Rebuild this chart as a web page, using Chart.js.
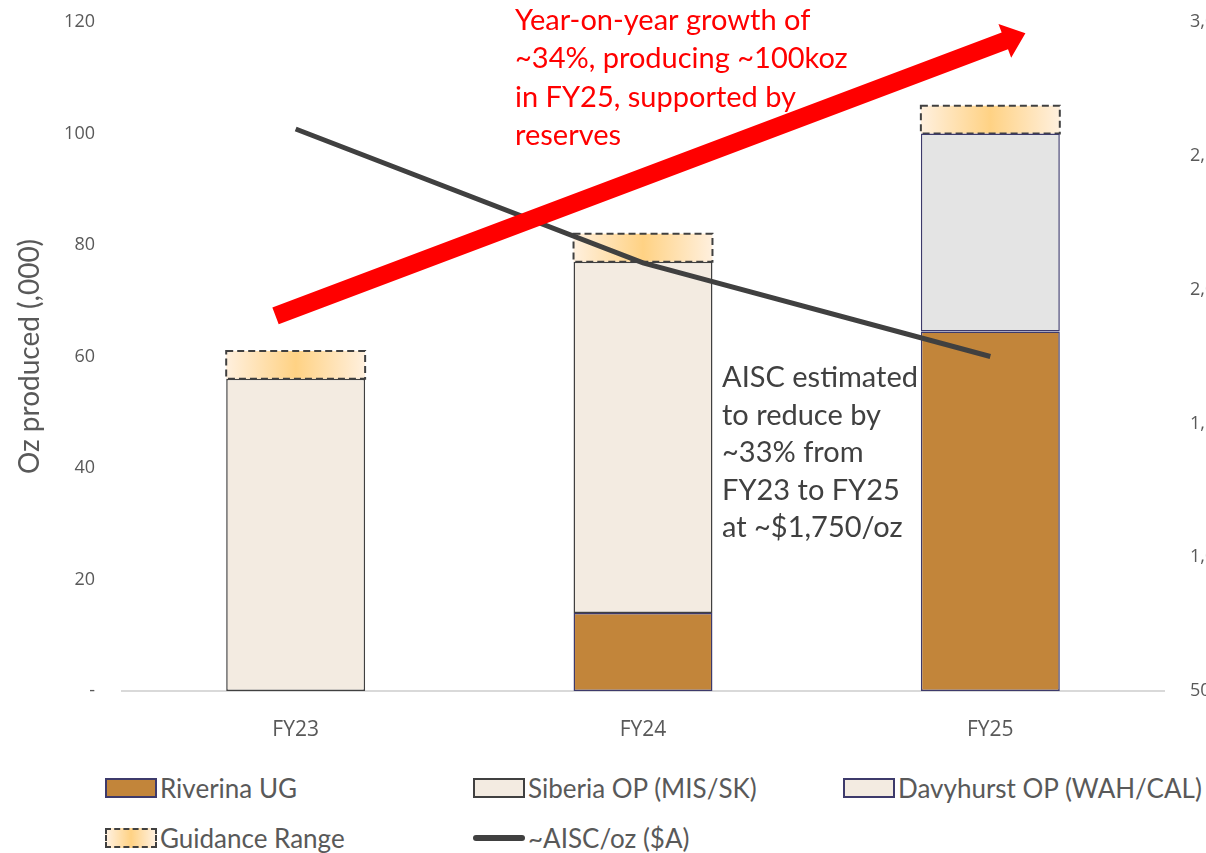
<!DOCTYPE html>
<html>
<head>
<meta charset="utf-8">
<script src="https://cdn.jsdelivr.net/npm/chart.js@4.4.1/dist/chart.umd.min.js"></script>
<style>
    html, body { margin: 0; padding: 0; background: #fff; width: 1206px; height: 853px; overflow: hidden; }
    #wrap { position: absolute; left: 0; top: 0; width: 1234px; height: 760px; }
    #legend {
        position: absolute; left: 105px; top: 763px;
        display: grid; grid-template-columns: 368px 370px 400px; grid-auto-rows: 50px;
        font-family: Lato, sans-serif; font-size: 26px; color: #595959;
    }
    .item { display: flex; align-items: center; white-space: nowrap; }
    .sw { width: 52px; height: 20px; box-sizing: border-box; margin-right: 3px; }
    .ln { width: 52px; height: 6px; border-radius: 3px; margin-right: 3px; }
</style>
</head>
<body>
<div id="wrap"><canvas id="chart"></canvas></div>
<div id="legend"></div>
<script>
var categories = ["FY23", "FY24", "FY25"];
var riverinaUG = [null, 14, 64.5];
var siberiaOP = [56, 63, null];
var davyhurstOP = [null, null, 35.5];
var guidanceRange = [5, 5, 5];
var aiscPerOz = [2600, 2100, 1750];

var redNote = ["Year-on-year growth of", "~34%, producing ~100koz", "in FY25, supported by", "reserves"];
var greyNote = ["AISC estimated", "to reduce by", "~33% from", "FY23 to FY25", "at ~$1,750/oz"];
// arrow from/to in (category index, left axis value)
var arrowFrom = [-0.058, 67.3];
var arrowTo = [2.101, 118];

var navy = "#3D3A6B";
var dark = "#404040";

function guidanceFill(ctx) {
    var chart = ctx.chart;
    if (!chart.chartArea || ctx.dataIndex === undefined) return "#FFD98F";
    var xs = chart.scales.x;
    var cx = xs.getPixelForValue(ctx.dataIndex);
    var half = xs.width / categories.length * 0.4 / 2;
    var g = chart.ctx.createLinearGradient(cx - half, 0, cx + half, 0);
    g.addColorStop(0, "#FFF0DE");
    g.addColorStop(0.5, "#FFD284");
    g.addColorStop(1, "#FFF0DE");
    return g;
}

var guidanceOutline = {
    id: "guidanceOutline",
    afterDatasetDraw: function(chart, args) {
        if (args.index !== 3) return;
        var c = chart.ctx;
        c.save();
        c.setLineDash([7, 4]);
        c.lineWidth = 2;
        c.strokeStyle = dark;
        args.meta.data.forEach(function(bar) {
            var p = bar.getProps(["x", "y", "base", "width"], true);
            c.strokeRect(p.x - p.width / 2, p.y, p.width, p.base - p.y);
        });
        c.restore();
    }
};

var notes = {
    id: "notes",
    afterDatasetsDraw: function(chart) {
        var c = chart.ctx;
        var xs = chart.scales.x, ys = chart.scales.y;
        // red growth arrow
        var x0 = xs.getPixelForValue(arrowFrom[0]), y0 = ys.getPixelForValue(arrowFrom[1]);
        var x1 = xs.getPixelForValue(arrowTo[0]), y1 = ys.getPixelForValue(arrowTo[1]);
        var ang = Math.atan2(y1 - y0, x1 - x0);
        var len = Math.hypot(x1 - x0, y1 - y0);
        c.save();
        c.translate(x0, y0);
        c.rotate(ang);
        c.fillStyle = "#FF0000";
        c.beginPath();
        c.moveTo(0, -9);
        c.lineTo(len - 22, -9);
        c.lineTo(len - 22, -18);
        c.lineTo(len, 0);
        c.lineTo(len - 22, 18);
        c.lineTo(len - 22, 9);
        c.lineTo(0, 9);
        c.closePath();
        c.fill();
        c.restore();

        c.save();
        c.font = "29px Lato";
        c.textBaseline = "alphabetic";
        c.fillStyle = "#FF0000";
        redNote.forEach(function(t, i) { c.fillText(t, 515, 30 + i * 38.4); });
        c.fillStyle = dark;
        greyNote.forEach(function(t, i) { c.fillText(t, 722, 387 + i * 37.5); });
        c.restore();
    }
};

function noVerticalPad(s) {
    s.paddingTop = 0;
    s.paddingBottom = 0;
}

var chart = new Chart(document.getElementById("chart").getContext("2d"), {
    type: "bar",
    data: {
        labels: categories,
        datasets: [
            {
                label: "Riverina UG",
                data: riverinaUG,
                backgroundColor: "#C2853A",
                borderColor: navy,
                borderWidth: 1.5,
                borderSkipped: false,
                order: 1
            },
            {
                label: "Siberia OP (MIS/SK)",
                data: siberiaOP,
                backgroundColor: "#F3EBE1",
                borderColor: dark,
                borderWidth: 1.5,
                borderSkipped: false,
                order: 1
            },
            {
                label: "Davyhurst OP (WAH/CAL)",
                data: davyhurstOP,
                backgroundColor: "#E4E4E4",
                borderColor: navy,
                borderWidth: 1.5,
                borderSkipped: false,
                order: 1
            },
            {
                label: "Guidance Range",
                data: guidanceRange,
                backgroundColor: guidanceFill,
                borderWidth: 0,
                order: 1
            },
            {
                type: "line",
                label: "~AISC/oz ($A)",
                data: aiscPerOz,
                yAxisID: "y1",
                borderColor: dark,
                borderWidth: 5,
                pointRadius: 0,
                tension: 0,
                order: 0
            }
        ]
    },
    options: {
        responsive: true,
        maintainAspectRatio: false,
        animation: false,
        categoryPercentage: 0.8,
        barPercentage: 0.5,
        layout: { padding: { top: 22, left: 0, right: 0, bottom: 0 } },
        plugins: {
            legend: { display: false },
            tooltip: { enabled: false }
        },
        scales: {
            x: {
                stacked: true,
                grid: { display: true, color: "transparent", drawTicks: false },
                border: { display: true, color: "#D9D9D9", width: 2 },
                ticks: { color: "#595959", font: { family: "Open Sans", size: 21 }, padding: 26 },
                afterFit: function(s) { s.height = 69; }
            },
            y: {
                stacked: true,
                min: 0,
                max: 120,
                grid: { display: false, drawTicks: false },
                border: { display: false },
                ticks: {
                    stepSize: 20,
                    color: "#595959",
                    font: { family: "Open Sans", size: 18 },
                    padding: 27,
                    callback: function(v) { return v === 0 ? "-" : v; }
                },
                title: {
                    display: true,
                    text: "Oz produced (,000)",
                    color: "#595959",
                    font: { family: "Lato", size: 28 },
                    padding: { top: 13, bottom: 0 }
                },
                afterFit: function(s) { s.width = 122; noVerticalPad(s); }
            },
            y1: {
                position: "right",
                min: 500,
                max: 3000,
                grid: { display: false, drawTicks: false },
                border: { display: false },
                ticks: {
                    stepSize: 500,
                    color: "#595959",
                    font: { family: "Open Sans", size: 18 },
                    padding: 26,
                    callback: function(v) { return v.toLocaleString("en-US"); }
                },
                afterFit: function(s) { s.width = 70; noVerticalPad(s); }
            }
        }
    },
    plugins: [guidanceOutline, notes]
});

// legend in the same grid as the original (three columns)
var legendItems = [
    { text: "Riverina UG", fill: "#C2853A", border: navy },
    { text: "Siberia OP (MIS/SK)", fill: "#F3EBE1", border: dark },
    { text: "Davyhurst OP (WAH/CAL)", fill: "#F3EBE1", border: navy },
    { text: "Guidance Range", fill: "linear-gradient(90deg,#FFF0DE,#FFD284,#FFF0DE)", border: dark, dashed: true },
    { text: "~AISC/oz ($A)", line: dark }
];
var legend = document.getElementById("legend");
legendItems.forEach(function(it) {
    var d = document.createElement("div");
    d.className = "item";
    var s = document.createElement("span");
    if (it.line) {
        s.className = "ln";
        s.style.background = it.line;
    } else {
        s.className = "sw";
        s.style.background = it.fill;
        s.style.border = "2px " + (it.dashed ? "dashed " : "solid ") + it.border;
    }
    d.appendChild(s);
    d.appendChild(document.createTextNode(it.text));
    legend.appendChild(d);
});
</script>
</body>
</html>
